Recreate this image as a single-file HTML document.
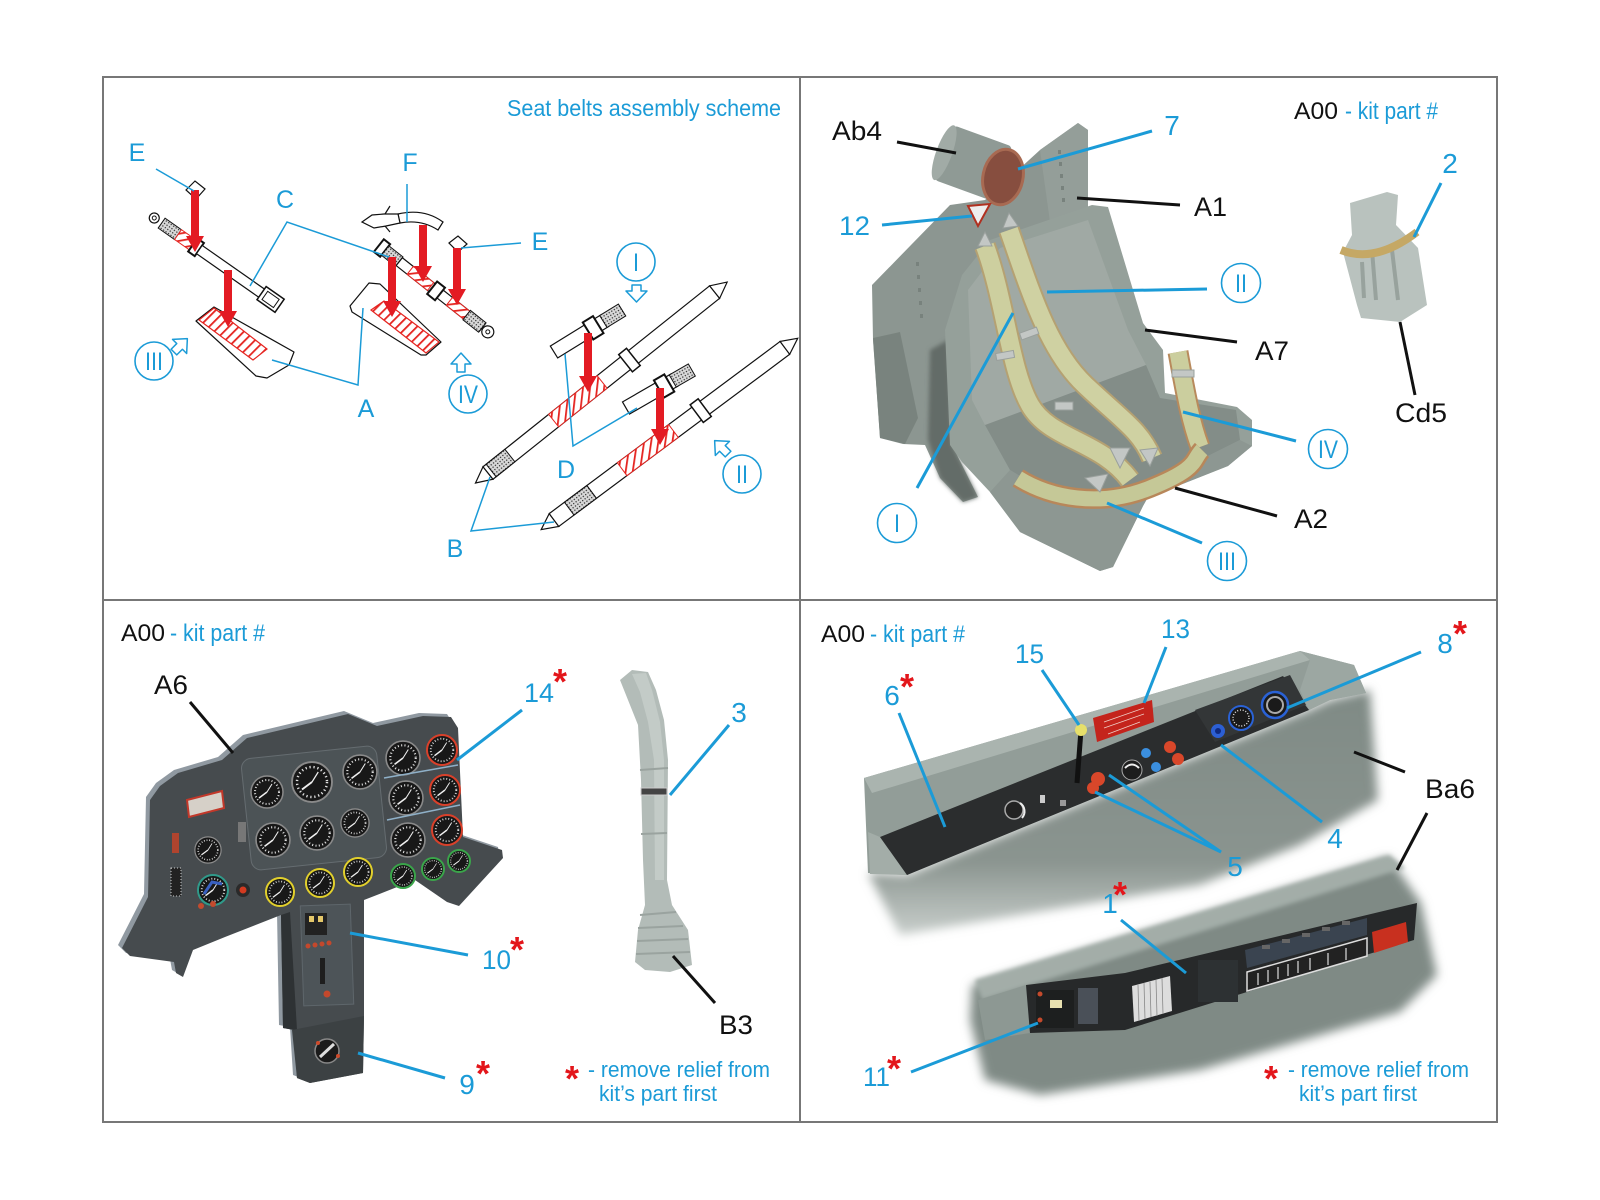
<!DOCTYPE html>
<html><head><meta charset="utf-8"><style>
html,body{margin:0;padding:0;background:#fff;}
svg{display:block;}
text{font-family:"Liberation Sans",Arial,sans-serif;}
.b{fill:#1b9bd7;}
.k{fill:#111;}
.r{fill:#e3161b;font-weight:bold;}
.lb{stroke:#1b9bd7;stroke-width:1.5;fill:none;}
.lB{stroke:#1b9bd7;stroke-width:3;fill:none;}
.lK{stroke:#111;stroke-width:3;fill:none;}
.ol{fill:#fff;stroke:#111;stroke-width:1.2;}
</style></head><body>
<svg width="1600" height="1200" viewBox="0 0 1600 1200" xmlns="http://www.w3.org/2000/svg">
<defs>
<pattern id="hatch" width="7" height="7" patternUnits="userSpaceOnUse" patternTransform="rotate(-45)"><rect width="7" height="7" fill="#fff"/><rect width="7" height="1.8" fill="#e52420"/></pattern>
<pattern id="dots" width="3" height="3" patternUnits="userSpaceOnUse"><rect width="3" height="3" fill="#d8d8d8"/><rect x="1" y="1" width="1.2" height="1.2" fill="#222"/></pattern>
<filter id="soft" x="-20%" y="-20%" width="140%" height="140%"><feGaussianBlur stdDeviation="5"/></filter>
<filter id="soft2" x="-20%" y="-20%" width="140%" height="140%"><feGaussianBlur stdDeviation="2"/></filter>
<linearGradient id="fadeU" x1="0" y1="0" x2="0" y2="1"><stop offset="0" stop-color="#7f8a85"/><stop offset="0.7" stop-color="#8a948f"/><stop offset="1" stop-color="#c9cfcc"/></linearGradient>
<g id="gz"><circle r="16" fill="#181818" stroke="#8a8a8a" stroke-width="1.5"/><circle r="12" fill="none" stroke="#e0e0e0" stroke-width="2" stroke-dasharray="1 2.2"/><line x1="0" y1="0" x2="-8" y2="6" stroke="#f0f0f0" stroke-width="1.5"/><line x1="0" y1="0" x2="5" y2="-8" stroke="#f0f0f0" stroke-width="1"/></g>
</defs>

<rect width="1600" height="1200" fill="#fff"/>

<!-- ================= TOP LEFT: seat belts scheme ================= -->
<text x="507" y="116" font-size="23" class="b" textLength="274" lengthAdjust="spacingAndGlyphs">Seat belts assembly scheme</text>

<!-- plates A -->
<polygon points="196,321 214,307 294,352 289,365 267,378 256,376" class="ol" stroke-linejoin="round"/>
<polygon points="199,320 214,308 267,349 253,360" fill="url(#hatch)" stroke="#e52420" stroke-width="1.2"/>
<polygon points="350,306 369,283 380,284 441,342 426,355 421,355 352,312" class="ol" stroke-linejoin="round"/>
<polygon points="371,310 384,301 439,342 426,353" fill="url(#hatch)" stroke="#e52420" stroke-width="1.2"/>

<!-- belt C -->
<g transform="translate(160,222) rotate(35)">
<circle cx="-7" cy="0" r="5" class="ol"/><circle cx="-7" cy="0" r="2" fill="#fff" stroke="#111"/>
<rect x="2" y="-6" width="20" height="12" fill="url(#dots)" stroke="#111"/>
<rect x="22" y="-6" width="18" height="12" fill="url(#hatch)" stroke="#e52420"/>
<rect x="40" y="-8" width="8" height="16" fill="#fff" stroke="#111" stroke-width="2"/>
<rect x="48" y="-5" width="78" height="10" class="ol"/>
<rect x="124" y="-8" width="22" height="16" fill="#fff" stroke="#111" stroke-width="1.5"/>
<rect x="128" y="-5" width="14" height="10" fill="none" stroke="#111"/>
</g>

<!-- belt right (E/F) -->
<g transform="translate(382,248) rotate(38.4)">
<rect x="-4" y="-8" width="8" height="16" fill="#fff" stroke="#111" stroke-width="2"/>
<rect x="4" y="-6" width="18" height="12" fill="url(#dots)" stroke="#111"/>
<rect x="22" y="-5" width="106" height="10" class="ol"/>
<rect x="36" y="-5" width="26" height="10" fill="url(#hatch)" stroke="#e52420"/>
<rect x="64" y="-8" width="10" height="16" fill="#fff" stroke="#111" stroke-width="2"/>
<rect x="86" y="-5" width="22" height="10" fill="url(#hatch)" stroke="#e52420"/>
<rect x="108" y="-6" width="20" height="12" fill="url(#dots)" stroke="#111"/>
<circle cx="135" cy="0" r="6" class="ol"/><circle cx="135" cy="0" r="2" fill="#fff" stroke="#111"/>
</g>

<!-- F clip -->
<path d="M398,214 Q424,208 443,222 L438,230 Q421,219 400,223 Z" class="ol"/>
<path d="M362,222 L372,215 L384,214 L398,214 L400,223 L386,226 L374,228 Z" class="ol"/>
<line x1="385" y1="214" x2="390" y2="206" stroke="#111" stroke-width="1.2"/>
<line x1="385" y1="226" x2="390" y2="232" stroke="#111" stroke-width="1.2"/>

<!-- E tags -->
<polygon points="186,190 195,181 205,189 196,199" class="ol"/>
<polygon points="449,243 458,236 467,244 458,252" class="ol"/>

<!-- B straps -->
<g transform="translate(488,473) rotate(-38.6)">
<polygon points="0,-8 0,8 -16,0" class="ol" stroke-width="1.6"/>
<rect x="0" y="-8" width="290" height="16" class="ol"/>
<rect x="4" y="-8" width="24" height="16" fill="url(#dots)" stroke="#111"/>
<rect x="84" y="-8" width="62" height="16" fill="url(#hatch)" stroke="#e52420"/>
<rect x="176" y="-11" width="10" height="22" fill="#fff" stroke="#111" stroke-width="1.5"/>
<polygon points="290,-8 290,8 306,0" class="ol" stroke-width="1.6"/>
</g>
<g transform="translate(554,520) rotate(-36.7)">
<polygon points="0,-8 0,8 -16,0" class="ol" stroke-width="1.6"/>
<rect x="0" y="-8" width="288" height="16" class="ol"/>
<rect x="19" y="-8" width="28" height="16" fill="url(#dots)" stroke="#111"/>
<rect x="85" y="-8" width="64" height="16" fill="url(#hatch)" stroke="#e52420"/>
<rect x="178" y="-11" width="10" height="22" fill="#fff" stroke="#111" stroke-width="1.5"/>
<polygon points="288,-8 288,8 304,0" class="ol" stroke-width="1.6"/>
</g>
<!-- D pieces -->
<g transform="translate(554,352) rotate(-31.7)">
<rect x="0" y="-7" width="60" height="14" class="ol"/>
<rect x="40" y="-10" width="12" height="20" fill="#fff" stroke="#111" stroke-width="2"/>
<rect x="58" y="-7" width="22" height="14" fill="url(#dots)" stroke="#111"/>
</g>
<g transform="translate(626,408) rotate(-30)">
<rect x="0" y="-7" width="56" height="14" class="ol"/>
<rect x="38" y="-10" width="12" height="20" fill="#fff" stroke="#111" stroke-width="2"/>
<rect x="54" y="-7" width="22" height="14" fill="url(#dots)" stroke="#111"/>
</g>

<!-- red arrows -->
<g fill="#e31b23">
<rect x="191" y="190" width="8" height="48"/><polygon points="186,236 204,236 195,252"/>
<rect x="224" y="270" width="8" height="43"/><polygon points="219,311 237,311 228,327"/>
<rect x="388" y="257" width="8" height="46"/><polygon points="383,301 401,301 392,317"/>
<rect x="419" y="225" width="8" height="43"/><polygon points="414,266 432,266 423,282"/>
<rect x="453" y="248" width="8" height="43"/><polygon points="448,289 466,289 457,305"/>
<rect x="584" y="333" width="8" height="45"/><polygon points="579,376 597,376 588,392"/>
<rect x="656" y="388" width="8" height="43"/><polygon points="651,429 669,429 660,445"/>
</g>

<!-- hollow blue arrows -->
<g fill="#fff" stroke="#1b9bd7" stroke-width="1.5" stroke-linejoin="round">
<polygon points="632,285 641,285 641,291 647,291 636.5,302 626,291 632,291"/>
<g transform="translate(181,345) rotate(45)"><polygon points="-4,10 4,10 4,2 10,2 0,-9 -10,2 -4,2"/></g>
<g transform="translate(461,362)"><polygon points="-4,10 4,10 4,2 10,2 0,-9 -10,2 -4,2"/></g>
<g transform="translate(721,447) rotate(-45)"><polygon points="-4,10 4,10 4,2 10,2 0,-9 -10,2 -4,2"/></g>
</g>

<!-- top-left leaders -->
<polyline class="lb" points="156,169 194,191"/>
<polyline class="lb" points="250,286 287,222 389,257"/>
<polyline class="lb" points="407,184 407,222"/>
<polyline class="lb" points="521,243 461,248"/>
<polyline class="lb" points="272,360 358,385 363,308"/>
<polyline class="lb" points="565,354 573,446 637,408"/>
<polyline class="lb" points="490,477 471,531 554,522"/>

<!-- top-left labels -->
<g class="b" font-size="25" text-anchor="middle">
<text x="137" y="161">E</text>
<text x="410" y="171">F</text>
<text x="285" y="208">C</text>
<text x="540" y="250">E</text>
<text x="366" y="417">A</text>
<text x="566" y="478">D</text>
<text x="455" y="557">B</text>
</g>
<g fill="none" stroke="#1b9bd7" stroke-width="1.6">
<circle cx="636" cy="262" r="19"/><circle cx="154" cy="361" r="19"/><circle cx="468" cy="394" r="19"/><circle cx="742" cy="474" r="19"/>
</g>
<g class="b" font-size="25">
<text x="633" y="271" textLength="6" lengthAdjust="spacingAndGlyphs">I</text>
<text x="145" y="370" textLength="18" lengthAdjust="spacingAndGlyphs">III</text>
<text x="458" y="403" textLength="20" lengthAdjust="spacingAndGlyphs">IV</text>
<text x="736" y="483" textLength="12" lengthAdjust="spacingAndGlyphs">II</text>
</g>

<!-- ================= TOP RIGHT: seat ================= -->
<g>
<polygon points="872,285 950,205 985,200 1040,150 1078,123 1088,130 1088,212 1010,238 965,290 950,330 952,445 978,497 963,502 940,478 925,445 903,444 880,438 873,340" fill="#8c9691"/>
<polygon points="873,338 900,332 918,418 905,444 880,438" fill="#79837e"/>
<polygon points="930,350 948,340 952,445 978,497 963,502 940,478 928,440" fill="#636c68" filter="url(#soft2)"/>
<polygon points="1040,150 1078,123 1088,130 1088,210 1050,222" fill="#949e99"/>
<g fill="#78827d"><rect x="1058" y="150" width="3" height="4"/><rect x="1059" y="162" width="3" height="4"/><rect x="1060" y="174" width="3" height="4"/><rect x="1061" y="186" width="3" height="4"/><rect x="1062" y="198" width="3" height="4"/><rect x="916" y="262" width="3" height="4"/><rect x="917" y="275" width="3" height="4"/><rect x="918" y="288" width="3" height="4"/><rect x="919" y="301" width="3" height="4"/><rect x="920" y="314" width="3" height="4"/></g>
<!-- cylinder -->
<g transform="translate(978,165) rotate(20)">
<rect x="-36" y="-29" width="62" height="58" rx="4" fill="#8f9a95"/>
<ellipse cx="-36" cy="0" rx="8" ry="29" fill="#a1aba6"/>
</g>
<ellipse cx="1003" cy="177" rx="20" ry="28" transform="rotate(12 1003 177)" fill="#874e3f" stroke="#a86a52" stroke-width="3"/>
<!-- placard 12 -->
<polygon points="968,206 990,204 978,226" fill="#eee" stroke="#b03020" stroke-width="2"/>
<!-- bucket -->
<polygon points="990,240 1092,205 1108,207 1143,323 1163,350 1165,393 1237,407 1252,420 1252,446 1228,466 1180,485 1152,490 1143,506 1113,567 1100,571 1020,532 990,492 962,462 950,445 945,330 962,275" fill="#95a09a"/>
<polygon points="968,290 1000,248 1088,220 1128,330 1146,365 1010,420 985,425 972,400" fill="#a0a9a4"/>
<polygon points="985,425 1146,365 1160,398 1236,410 1240,440 1180,470 1145,482 1060,500 1010,470" fill="#838d88"/>
<polygon points="990,492 1010,470 1060,500 1145,482 1180,470 1240,440 1252,446 1228,466 1180,485 1152,490 1143,506 1113,567 1100,571 1020,532" fill="#8d9792"/>
<!-- belts -->
<g fill="none" stroke-linecap="butt">
<path d="M1009,230 C1030,290 1048,350 1085,385 S1140,430 1152,458" stroke="#b5a172" stroke-width="22"/>
<path d="M1009,230 C1030,290 1048,350 1085,385 S1140,430 1152,458" stroke="#cfd1a2" stroke-width="18"/>
<path d="M985,246 C1005,300 1010,370 1030,405 S1100,440 1130,480" stroke="#b5a172" stroke-width="22"/>
<path d="M985,246 C1005,300 1010,370 1030,405 S1100,440 1130,480" stroke="#cdcf9f" stroke-width="18"/>
<path d="M1178,352 C1185,390 1190,420 1200,447" stroke="#b88a5c" stroke-width="21"/>
<path d="M1178,352 C1185,390 1190,420 1200,447" stroke="#cbce9e" stroke-width="17"/>
<path d="M1018,478 C1050,498 1100,508 1150,488 S1192,460 1202,450" stroke="#b8875a" stroke-width="20"/>
<path d="M1018,478 C1050,498 1100,508 1150,488 S1192,460 1202,450" stroke="#c5c897" stroke-width="15"/>
</g>
<g fill="#c3c7c5" stroke="#9aa09d" stroke-width="1">
<polygon points="978,246 992,246 985,232"/><polygon points="1003,228 1018,226 1009,213"/>
<rect x="1020" y="330" width="18" height="7" transform="rotate(-20 1029 333)"/>
<rect x="996" y="352" width="18" height="7" transform="rotate(-10 1005 355)"/>
<rect x="1055" y="402" width="18" height="8"/>
<rect x="1172" y="370" width="22" height="7"/>
<polygon points="1110,448 1130,448 1120,468"/><polygon points="1140,450 1158,448 1150,466"/>
<polygon points="1085,478 1108,474 1100,492"/>
</g>
</g>
<!-- Cd5 -->
<polygon points="1350,203 1387,192 1398,195 1396,225 1418,248 1427,305 1400,322 1361,318 1357,305 1343,252 1352,235" fill="#b9c2be"/>
<g stroke="#98a29d" stroke-width="4"><line x1="1372" y1="250" x2="1376" y2="300"/><line x1="1392" y1="250" x2="1398" y2="300"/><line x1="1362" y1="262" x2="1364" y2="298"/></g>
<path d="M1341,250 Q1375,264 1417,232" fill="none" stroke="#c5a865" stroke-width="8"/>

<!-- top-right leaders -->
<line class="lK" x1="897" y1="142" x2="956" y2="153"/>
<line class="lB" x1="1152" y1="131" x2="1018" y2="169"/>
<line class="lK" x1="1077" y1="198" x2="1180" y2="205"/>
<line class="lB" x1="882" y1="225" x2="972" y2="216"/>
<line class="lB" x1="1441" y1="183" x2="1414" y2="237"/>
<line class="lB" x1="1047" y1="292" x2="1207" y2="289"/>
<line class="lK" x1="1145" y1="330" x2="1237" y2="342"/>
<line class="lB" x1="917" y1="488" x2="1013" y2="313"/>
<line class="lK" x1="1400" y1="322" x2="1415" y2="395"/>
<line class="lB" x1="1183" y1="412" x2="1296" y2="441"/>
<line class="lK" x1="1175" y1="488" x2="1277" y2="516"/>
<line class="lB" x1="1107" y1="503" x2="1202" y2="543"/>

<!-- top-right labels -->
<text x="1294" y="119" font-size="24" class="k" textLength="44" lengthAdjust="spacingAndGlyphs">A00</text>
<text x="1345" y="119" font-size="24" class="b" textLength="93" lengthAdjust="spacingAndGlyphs">- kit part #</text>
<text x="832" y="140" font-size="27" class="k" textLength="50" lengthAdjust="spacingAndGlyphs">Ab4</text>
<text x="1172" y="135" font-size="28" class="b" text-anchor="middle">7</text>
<text x="1194" y="216" font-size="27" class="k" textLength="33" lengthAdjust="spacingAndGlyphs">A1</text>
<text x="839" y="235" font-size="27" class="b" textLength="31" lengthAdjust="spacingAndGlyphs">12</text>
<text x="1450" y="173" font-size="28" class="b" text-anchor="middle">2</text>
<text x="1255" y="360" font-size="27" class="k" textLength="34" lengthAdjust="spacingAndGlyphs">A7</text>
<text x="1395" y="422" font-size="27" class="k" textLength="52" lengthAdjust="spacingAndGlyphs">Cd5</text>
<text x="1294" y="528" font-size="27" class="k" textLength="34" lengthAdjust="spacingAndGlyphs">A2</text>
<g fill="#fff" stroke="#1b9bd7" stroke-width="1.6">
<circle cx="1241" cy="283" r="19.5"/><circle cx="1328" cy="449" r="19.5"/><circle cx="897" cy="523" r="19.5"/><circle cx="1227" cy="561" r="19.5"/>
</g>
<g class="b" font-size="25">
<text x="1235" y="292" textLength="12" lengthAdjust="spacingAndGlyphs">II</text>
<text x="1318" y="458" textLength="20" lengthAdjust="spacingAndGlyphs">IV</text>
<text x="894" y="532" textLength="6" lengthAdjust="spacingAndGlyphs">I</text>
<text x="1218" y="570" textLength="18" lengthAdjust="spacingAndGlyphs">III</text>
</g>

<!-- ================= BOTTOM LEFT: instrument panel ================= -->
<g transform="translate(-4,-3)">
<polygon points="150,800 160,786 178,773 222,760 247,738 348,714 377,726 423,716 451,717 458,728 463,837 502,850 503,858 459,906 447,902 415,880 364,900 364,1016 363,1073 310,1083 297,1078 294,1030 283,1028 281,915 225,937 193,950 183,977 176,973 174,962 130,956 122,948 148,897" fill="#74808a" opacity="0.8"/>
</g>
<polygon points="150,800 160,786 178,773 222,760 247,738 348,714 377,726 423,716 451,717 458,728 463,837 502,850 503,858 459,906 447,902 415,880 364,900 364,1016 363,1073 310,1083 297,1078 294,1030 283,1028 281,915 225,937 193,950 183,977 176,973 174,962 130,956 122,948 148,897" fill="#464b4e"/>
<polygon points="281,915 290,912 297,1030 294,1030 283,1028" fill="#2e3234"/>
<polygon points="292,1030 364,1016 363,1073 310,1083 297,1078" fill="#3c4143"/>
<rect x="246" y="752" width="136" height="112" rx="10" fill="#4c5356" stroke="#656c70" stroke-width="1" transform="rotate(-6 314 808)"/>
<rect x="302" y="905" width="50" height="100" fill="#4d5458" stroke="#5e666b" stroke-width="1" transform="rotate(-2 327 955)"/>
<!-- placard -->
<polygon points="187,800 222,791 224,808 189,817" fill="#d6d0c8" stroke="#c2382a" stroke-width="2"/>
<rect x="172" y="833" width="7" height="20" fill="#b0442e"/>
<rect x="171" y="868" width="10" height="28" fill="#222" stroke="#ccc" stroke-width="1" stroke-dasharray="1 2"/>
<!-- gauges -->
<g transform="translate(267,792)"><use href="#gz"/></g>
<g transform="translate(312,782) scale(1.25)"><use href="#gz"/></g>
<g transform="translate(360,772) scale(1.06)"><use href="#gz"/></g>
<g transform="translate(273,840) scale(1.06)"><use href="#gz"/></g>
<g transform="translate(317,833) scale(1.06)"><use href="#gz"/></g>
<g transform="translate(355,823) scale(0.88)"><use href="#gz"/></g>
<g transform="translate(403,758) scale(1.06)"><use href="#gz"/></g>
<g transform="translate(406,798) scale(1.06)"><use href="#gz"/></g>
<g transform="translate(408,840) scale(1.06)"><use href="#gz"/></g>
<g transform="translate(442,750) scale(0.94)"><use href="#gz"/></g>
<g transform="translate(445,790) scale(0.94)"><use href="#gz"/></g>
<g transform="translate(447,830) scale(0.94)"><use href="#gz"/></g>
<g transform="translate(208,850) scale(0.82)"><use href="#gz"/></g>
<g transform="translate(213,890) scale(0.94)"><use href="#gz"/></g>
<g transform="translate(280,892) scale(0.88)"><use href="#gz"/></g>
<g transform="translate(320,883) scale(0.88)"><use href="#gz"/></g>
<g transform="translate(358,872) scale(0.88)"><use href="#gz"/></g>
<g transform="translate(403,876) scale(0.75)"><use href="#gz"/></g>
<g transform="translate(433,869) scale(0.7)"><use href="#gz"/></g>
<g transform="translate(459,861) scale(0.7)"><use href="#gz"/></g>
<g fill="none" stroke-width="2">
<circle cx="442" cy="750" r="15" stroke="#d9402a"/><circle cx="445" cy="790" r="15" stroke="#d9402a"/><circle cx="447" cy="830" r="15" stroke="#d9402a"/>
<circle cx="280" cy="892" r="14" stroke="#e2d02c"/><circle cx="320" cy="883" r="14" stroke="#e2d02c"/><circle cx="358" cy="872" r="14" stroke="#e2d02c"/>
<circle cx="403" cy="876" r="12" stroke="#3aa54a"/><circle cx="433" cy="869" r="11" stroke="#3aa54a"/><circle cx="459" cy="861" r="11" stroke="#3aa54a"/>
<circle cx="213" cy="890" r="15" stroke="#2f9a8a"/>
</g>
<path d="M204,894 L212,882 L222,884" stroke="#3960c0" stroke-width="3" fill="none"/>
<line x1="384" y1="778" x2="458" y2="765" stroke="#8fb0c8" stroke-width="1.5"/>
<line x1="387" y1="820" x2="460" y2="805" stroke="#8fb0c8" stroke-width="1.5"/>
<circle cx="243" cy="890" r="7" fill="#2a2a2a"/><circle cx="243" cy="890" r="3.5" fill="#d33a20"/>
<circle cx="201" cy="906" r="3" fill="#c34b2e"/><circle cx="213" cy="904" r="3" fill="#c34b2e"/>
<rect x="238" y="822" width="8" height="20" fill="#777"/>
<!-- column details -->
<rect x="305" y="913" width="22" height="22" fill="#222"/><rect x="309" y="916" width="5" height="6" fill="#e5c86a"/><rect x="318" y="916" width="5" height="6" fill="#e5c86a"/>
<g fill="#c4482c"><circle cx="308" cy="946" r="2.5"/><circle cx="315" cy="945" r="2.5"/><circle cx="322" cy="944" r="2.5"/><circle cx="329" cy="943" r="2.5"/></g>
<rect x="320" y="958" width="5" height="26" fill="#1e1e1e"/>
<circle cx="327" cy="994" r="3.5" fill="#c4482c"/>
<circle cx="327" cy="1051" r="12" fill="#1b1b1b" stroke="#888" stroke-width="1.5"/>
<line x1="320" y1="1057" x2="334" y2="1044" stroke="#ddd" stroke-width="3"/>
<circle cx="318" cy="1043" r="2" fill="#d04a2a"/><circle cx="338" cy="1056" r="2" fill="#d04a2a"/>

<!-- stick -->
<polygon points="620,680 632,670 648,672 656,690 664,720 668,760 667,880 672,905 688,930 692,965 670,972 645,970 635,962 638,930 645,905 643,860 641,780 638,725 628,700" fill="#b3bcb8"/>
<polygon points="632,674 646,673 652,690 660,722 664,760 664,880 655,880 654,760 648,722 640,692" fill="#c3cbc7"/>
<g stroke="#9aa39f" stroke-width="2" fill="none">
<line x1="640" y1="770" x2="668" y2="768"/><line x1="641" y1="834" x2="667" y2="833"/>
<line x1="640" y1="915" x2="676" y2="912"/><line x1="638" y1="928" x2="683" y2="926"/><line x1="637" y1="941" x2="688" y2="939"/><line x1="636" y1="954" x2="690" y2="952"/>
</g>
<rect x="641" y="788" width="26" height="7" fill="#444" stroke="#ccc" stroke-width="1"/>

<!-- bottom-left leaders -->
<line class="lK" x1="190" y1="702" x2="233" y2="753"/>
<line class="lB" x1="522" y1="710" x2="457" y2="760"/>
<line class="lB" x1="729" y1="725" x2="670" y2="795"/>
<line class="lK" x1="673" y1="956" x2="715" y2="1003"/>
<line class="lB" x1="468" y1="955" x2="350" y2="933"/>
<line class="lB" x1="445" y1="1078" x2="358" y2="1053"/>

<!-- bottom-left labels -->
<text x="121" y="641" font-size="24" class="k" textLength="44" lengthAdjust="spacingAndGlyphs">A00</text>
<text x="170" y="641" font-size="24" class="b" textLength="95" lengthAdjust="spacingAndGlyphs">- kit part #</text>
<text x="154" y="694" font-size="27" class="k" textLength="34" lengthAdjust="spacingAndGlyphs">A6</text>
<text x="524" y="702" font-size="27" class="b" textLength="30" lengthAdjust="spacingAndGlyphs">14</text>
<text x="560" y="694" font-size="36" class="r" text-anchor="middle">*</text>
<text x="739" y="722" font-size="28" class="b" text-anchor="middle">3</text>
<text x="482" y="969" font-size="27" class="b" textLength="29" lengthAdjust="spacingAndGlyphs">10</text>
<text x="517" y="962" font-size="36" class="r" text-anchor="middle">*</text>
<text x="719" y="1034" font-size="27" class="k" textLength="34" lengthAdjust="spacingAndGlyphs">B3</text>
<text x="467" y="1094" font-size="28" class="b" text-anchor="middle">9</text>
<text x="483" y="1086" font-size="36" class="r" text-anchor="middle">*</text>
<text x="572" y="1091" font-size="36" class="r" text-anchor="middle">*</text>
<text x="588" y="1077" font-size="22" class="b" textLength="182" lengthAdjust="spacingAndGlyphs">- remove relief from</text>
<text x="599" y="1101" font-size="22" class="b" textLength="118" lengthAdjust="spacingAndGlyphs">kit’s part first</text>

<!-- ================= BOTTOM RIGHT: consoles ================= -->
<!-- upper console -->
<polygon points="868,873 907,875 1309,710 1330,700 1370,690 1378,800 1300,845 1200,885 900,935" fill="url(#fadeU)" filter="url(#soft)"/>
<polygon points="864,778 1300,651 1354,665 1366,693 1330,700 1309,710 907,875 868,873" fill="#929d98"/>
<polygon points="864,778 1300,651 1310,660 872,793" fill="#aab4af"/>
<polygon points="1300,651 1354,665 1366,693 1330,700 1309,710 1300,690 1310,660" fill="#9ca7a2"/>
<polygon points="868,832 880,837 907,875 870,874" fill="#a3ada8"/>
<polygon points="880,837 1283,676 1309,710 907,875" fill="#2b2d2e"/>
<polygon points="1195,710 1290,675 1306,705 1215,742" fill="#333637"/>
<!-- details upper -->
<polygon points="1093,718 1152,700 1154,722 1097,742" fill="#c4241c"/>
<g stroke="#f0d0c8" stroke-width="0.8"><line x1="1104" y1="722" x2="1144" y2="708"/><line x1="1104" y1="728" x2="1144" y2="714"/><line x1="1108" y1="734" x2="1140" y2="722"/></g>
<line x1="1081" y1="730" x2="1077" y2="783" stroke="#111" stroke-width="5"/>
<circle cx="1081" cy="730" r="6" fill="#e6df6a"/>
<circle cx="1241" cy="718" r="12" fill="#1a1a1a" stroke="#2a62d6" stroke-width="2"/>
<circle cx="1241" cy="718" r="8" fill="none" stroke="#ddd" stroke-width="1.5" stroke-dasharray="1 1.8"/>
<circle cx="1275" cy="705" r="13" fill="#1a1a1a" stroke="#2a62d6" stroke-width="2.5"/>
<circle cx="1275" cy="705" r="8" fill="none" stroke="#aaa" stroke-width="2"/>
<circle cx="1218" cy="731" r="7" fill="#2c5fd4"/><circle cx="1218" cy="731" r="3" fill="#0f2a80"/>
<circle cx="1098" cy="779" r="7" fill="#d9472a"/><circle cx="1093" cy="788" r="6" fill="#d9472a"/>
<circle cx="1132" cy="770" r="10" fill="#1d1d1d" stroke="#aaa" stroke-width="1"/><path d="M1125,768 Q1132,761 1139,768" fill="none" stroke="#eee" stroke-width="2"/>
<circle cx="1146" cy="753" r="5" fill="#3b8fdf"/><circle cx="1156" cy="767" r="5" fill="#3b8fdf"/>
<circle cx="1170" cy="747" r="6" fill="#d9472a"/><circle cx="1178" cy="759" r="6" fill="#d9472a"/>
<circle cx="1014" cy="810" r="9" fill="#222" stroke="#aaa" stroke-width="1.5"/><path d="M1020,803 A10,10 0 0 1 1022,818" stroke="#eee" stroke-width="2" fill="none"/>
<rect x="1040" y="795" width="5" height="8" fill="#ccc"/><rect x="1060" y="800" width="6" height="6" fill="#999"/>
<!-- lower console -->
<polygon points="972,985 1389,857 1421,903 1437,975 1400,1012 1200,1070 1040,1095 985,1080 970,1020" fill="#7f8a85" filter="url(#soft)"/>
<polygon points="975,980 1389,855 1405,868 982,1000" fill="#a3ada8" filter="url(#soft2)"/>
<polygon points="978,1000 1026,985 1030,1033 985,1040" fill="#8d9893"/>
<polygon points="1026,985 1125,973 1417,903 1414,940 1125,1030 1030,1033" fill="#27292a"/>
<polygon points="1132,986 1170,976 1172,1011 1134,1022" fill="#ddd"/>
<g stroke="#888" stroke-width="0.8"><line x1="1138" y1="985" x2="1139" y2="1021"/><line x1="1144" y1="983" x2="1145" y2="1019"/><line x1="1150" y1="982" x2="1151" y2="1017"/><line x1="1156" y1="980" x2="1157" y2="1016"/><line x1="1162" y1="978" x2="1163" y2="1014"/></g>
<polygon points="1245,950 1367,918 1367,935 1247,968" fill="#3a4450"/>
<polygon points="1247,972 1367,938 1367,956 1247,991" fill="#222" stroke="#ddd" stroke-width="1.5"/>
<g stroke="#ddd" stroke-width="1.2"><line x1="1258" y1="973" x2="1258" y2="985"/><line x1="1268" y1="970" x2="1268" y2="982"/><line x1="1278" y1="967" x2="1278" y2="979"/><line x1="1288" y1="964" x2="1288" y2="976"/><line x1="1298" y1="961" x2="1298" y2="973"/><line x1="1310" y1="958" x2="1310" y2="970"/><line x1="1328" y1="953" x2="1328" y2="965"/><line x1="1346" y1="948" x2="1346" y2="960"/></g>
<g fill="#666"><rect x="1262" y="945" width="8" height="4"/><rect x="1282" y="939" width="8" height="4"/><rect x="1302" y="933" width="8" height="4"/><rect x="1322" y="927" width="8" height="4"/><rect x="1342" y="921" width="8" height="4"/></g>
<polygon points="1372,932 1406,922 1408,942 1374,953" fill="#c8301f"/>
<rect x="1036" y="990" width="38" height="38" fill="#1d1f1f"/>
<g fill="#c44a2c"><circle cx="1040" cy="994" r="2.5"/><circle cx="1040" cy="1020" r="2.5"/><circle cx="1084" cy="995" r="2.5"/><circle cx="1088" cy="1012" r="2.5"/><circle cx="1207" cy="968" r="3"/></g>
<rect x="1050" y="1000" width="12" height="8" fill="#e8e0b0"/>
<rect x="1078" y="988" width="20" height="36" fill="#4a5058"/>
<rect x="1198" y="960" width="40" height="42" fill="#2d3133"/>

<!-- bottom-right leaders -->
<line class="lB" x1="1042" y1="670" x2="1079" y2="725"/>
<line class="lB" x1="1166" y1="647" x2="1144" y2="703"/>
<line class="lB" x1="1421" y1="652" x2="1287" y2="708"/>
<line class="lB" x1="899" y1="713" x2="945" y2="827"/>
<line class="lK" x1="1354" y1="752" x2="1405" y2="772"/>
<line class="lK" x1="1427" y1="813" x2="1397" y2="870"/>
<line class="lB" x1="1221" y1="745" x2="1322" y2="822"/>
<polyline class="lB" points="1109,775 1221,852 1095,792"/>
<line class="lB" x1="1121" y1="920" x2="1186" y2="973"/>
<line class="lB" x1="911" y1="1072" x2="1038" y2="1023"/>

<!-- bottom-right labels -->
<text x="821" y="642" font-size="24" class="k" textLength="44" lengthAdjust="spacingAndGlyphs">A00</text>
<text x="870" y="642" font-size="24" class="b" textLength="95" lengthAdjust="spacingAndGlyphs">- kit part #</text>
<text x="1015" y="663" font-size="27" class="b" textLength="29" lengthAdjust="spacingAndGlyphs">15</text>
<text x="1161" y="638" font-size="27" class="b" textLength="29" lengthAdjust="spacingAndGlyphs">13</text>
<text x="1445" y="653" font-size="28" class="b" text-anchor="middle">8</text>
<text x="1460" y="646" font-size="36" class="r" text-anchor="middle">*</text>
<text x="892" y="705" font-size="28" class="b" text-anchor="middle">6</text>
<text x="907" y="699" font-size="36" class="r" text-anchor="middle">*</text>
<text x="1425" y="798" font-size="27" class="k" textLength="50" lengthAdjust="spacingAndGlyphs">Ba6</text>
<text x="1335" y="848" font-size="28" class="b" text-anchor="middle">4</text>
<text x="1235" y="876" font-size="28" class="b" text-anchor="middle">5</text>
<text x="1110" y="913" font-size="28" class="b" text-anchor="middle">1</text>
<text x="1120" y="907" font-size="36" class="r" text-anchor="middle">*</text>
<text x="863" y="1086" font-size="27" class="b" textLength="27" lengthAdjust="spacingAndGlyphs">11</text>
<text x="894" y="1081" font-size="36" class="r" text-anchor="middle">*</text>
<text x="1271" y="1091" font-size="36" class="r" text-anchor="middle">*</text>
<text x="1288" y="1077" font-size="22" class="b" textLength="181" lengthAdjust="spacingAndGlyphs">- remove relief from</text>
<text x="1299" y="1101" font-size="22" class="b" textLength="118" lengthAdjust="spacingAndGlyphs">kit’s part first</text>

<!-- frame -->
<g stroke="#777" stroke-width="2" fill="none">
<rect x="103" y="77" width="1394" height="1045"/>
<line x1="800" y1="77" x2="800" y2="1122"/>
<line x1="103" y1="600" x2="1497" y2="600"/>
</g>
</svg>
</body></html>
